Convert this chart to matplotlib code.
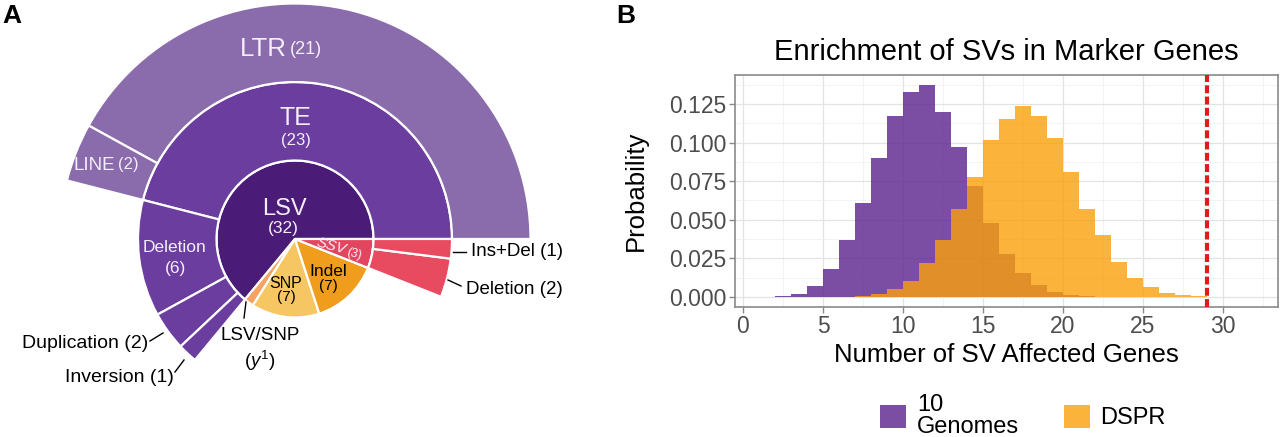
import numpy as np
import matplotlib.pyplot as plt
from matplotlib.patches import Wedge, Patch

plt.rcParams['font.family'] = ['Liberation Sans', 'DejaVu Sans']
plt.rcParams['mathtext.fontset'] = 'custom'
plt.rcParams['mathtext.it'] = 'Liberation Sans:italic'
plt.rcParams['mathtext.rm'] = 'Liberation Sans'

# === Panel A data (sunburst counts) ===
inner_labels = ["LSV", "LSV/SNP", "SNP", "Indel", "SSV"]
inner_counts = [32, 1, 7, 7, 3]
lsv_labels = ["TE", "Deletion", "Duplication", "Inversion"]
lsv_counts = [23, 6, 2, 1]
ssv_labels = ["Deletion", "Ins+Del"]
ssv_counts = [2, 1]
te_labels = ["LTR", "LINE"]
te_counts = [21, 2]

# === Panel B data (histogram probabilities, bins of width 1) ===
genomes_first_bin = 1
genomes_prob = [0.0003, 0.0005, 0.002, 0.007, 0.018, 0.037, 0.061, 0.090, 0.117,
                0.133, 0.137, 0.120, 0.097, 0.072, 0.048, 0.028, 0.0156, 0.0076,
                0.003, 0.001, 0.0004]
dspr_first_bin = 5
dspr_prob = [0.0001, 0.0003, 0.0006, 0.002, 0.005, 0.0106, 0.022, 0.037, 0.057,
             0.078, 0.102, 0.115, 0.124, 0.1174, 0.103, 0.081, 0.057, 0.040,
             0.0227, 0.0125, 0.0065, 0.0026, 0.001, 0.0004, 0.0002, 0.0002, 0.0001]
observed = 29
legend_labels = ["10\nGenomes", "DSPR"]

fig = plt.figure(figsize=(12.8, 4.37), dpi=100)

# === Panel A: sunburst in pixel-like coords (y down) ===
axA = fig.add_axes([0, 0, 560 / 1280, 1])
axA.set_xlim(0, 560)
axA.set_ylim(437, 0)
axA.axis('off')

cx, cy = 295, 239
unit = 78.5
total = sum(inner_counts)


def ring(counts, start, r_in, r_out, colors):
    a = start
    spans = []
    for c, col in zip(counts, colors):
        span = 360 * c / total
        w = None if r_in == 0 else r_out - r_in
        axA.add_patch(Wedge((cx, cy), r_out, -(a + span), -a, width=w,
                            facecolor=col, edgecolor='white', lw=1.6))
        spans.append((a, a + span))
        a += span
    return spans


inner = ring(inner_counts, 0, 0, unit,
             ['#4a1c78', '#f5a262', '#f6c663', '#f09c1c', '#e2455e'])
ring(lsv_counts, inner[0][0], unit, 2 * unit,
     ['#6a3d9e', '#6a3d9e', '#6a3d9e', '#6a3d9e'])
ring(ssv_counts, inner[4][0], unit, 2 * unit, ['#e84a5f', '#e84a5f'])
ring(te_counts, 0, 2 * unit, 3 * unit, ['#8a6bab', '#8a6bab'])

white = '#f4eefa'
axA.text(287, 49, "LTR", fontsize=18.5, color=white, ha='right', va='center')
axA.text(290, 50, "(21)", fontsize=13, color=white, ha='left', va='center')
axA.text(295, 118, "TE", fontsize=18, color=white, ha='center', va='center')
axA.text(296, 141, "(23)", fontsize=12, color=white, ha='center', va='center')
axA.text(284, 209, "LSV", fontsize=17, color=white, ha='center', va='center')
axA.text(283, 228, "(32)", fontsize=12.5, color=white, ha='center', va='center')
axA.text(115, 166, "LINE", fontsize=13.5, color=white, ha='right', va='center')
axA.text(118, 164, "(2)", fontsize=12, color=white, ha='left', va='center')
axA.text(174, 248, "Deletion", fontsize=12.5, color=white, ha='center', va='center')
axA.text(175, 268, "(6)", fontsize=12.5, color=white, ha='center', va='center')
axA.text(286, 283, "SNP", fontsize=11.5, color='black', ha='center', va='center')
axA.text(286, 297, "(7)", fontsize=11, color='black', ha='center', va='center')
axA.text(328, 271, "Indel", fontsize=12.5, color='black', ha='center', va='center')
axA.text(328, 286, "(7)", fontsize=11, color='black', ha='center', va='center')
axA.text(346, 250, "SSV", fontsize=11, color=white, ha='right', va='center',
         style='italic', rotation=-15, rotation_mode='anchor')
axA.text(347, 252, "(3)", fontsize=9, color=white, ha='left', va='center',
         rotation=-15, rotation_mode='anchor')

# outside labels with leader lines
axA.plot([453, 466], [251.5, 251.5], color='black', lw=1)
axA.text(471, 252, "Ins+Del (1)", fontsize=13.5, ha='left', va='center')
axA.plot([448, 461], [280, 286], color='black', lw=1)
axA.text(466, 289, "Deletion (2)", fontsize=13.5, ha='left', va='center')
axA.plot([150, 163], [341, 333], color='black', lw=1)
axA.text(148, 344, "Duplication (2)", fontsize=14, ha='right', va='center')
axA.plot([175, 184], [372, 360], color='black', lw=1)
axA.text(174, 377, "Inversion (1)", fontsize=14, ha='right', va='center')
axA.plot([244, 246], [318, 302], color='black', lw=1)
axA.text(260, 335, "LSV/SNP", fontsize=13.5, ha='center', va='center')
axA.text(260, 361, r"($y^1$)", fontsize=13.5, ha='center', va='center')

fig.text(12 / 1280, 1 - 16 / 437, "A", fontsize=19, fontweight='bold',
         ha='center', va='center')

# === Panel B: histogram ===
axB = fig.add_axes([735 / 1280, 1 - 307 / 437, 543 / 1280, 232 / 437])
g_edges = np.arange(genomes_first_bin, genomes_first_bin + len(genomes_prob) + 1)
d_edges = np.arange(dspr_first_bin, dspr_first_bin + len(dspr_prob) + 1)
axB.stairs(genomes_prob, g_edges, fill=True, color='#5a228c', alpha=0.8, lw=0, zorder=2)
axB.stairs(dspr_prob, d_edges, fill=True, color='#fba00a', alpha=0.8, lw=0, zorder=3)
axB.axvline(observed, color='#e31a1c', lw=3, ls=(0, (1.9, 0.8)), zorder=4)

axB.set_xlim(-0.5, 33.44)
axB.set_ylim(-0.0065, 0.1438)
axB.set_xticks(np.arange(0, 31, 5))
axB.set_yticks(np.arange(0, 0.126, 0.025))
axB.set_xticks(np.arange(2.5, 33, 5), minor=True)
axB.set_yticks(np.arange(0.0125, 0.14, 0.025), minor=True)
axB.yaxis.set_major_formatter(plt.FormatStrFormatter('%.3f'))
axB.grid(True, which='major', color='#e3e3e3', lw=0.9, zorder=0)
axB.grid(True, which='minor', color='#eeeeee', lw=0.5, zorder=0)
axB.set_axisbelow(True)
for s in axB.spines.values():
    s.set_color('#8a8a8a')
    s.set_linewidth(1.2)
axB.tick_params(which='major', length=4, width=1, color='#8a8a8a',
                labelsize=16.5, labelcolor='#4d4d4d', pad=2)
axB.tick_params(which='minor', length=0)

axB.set_title("Enrichment of SVs in Marker Genes", fontsize=21, pad=11)
axB.set_ylabel("Probability", fontsize=18.5)
axB.yaxis.set_label_coords(-0.16, 0.5)
axB.set_xlabel("Number of SV Affected Genes", fontsize=18.5)
axB.xaxis.set_label_coords(0.5, -0.155)

fig.text(626 / 1280, 1 - 16 / 437, "B", fontsize=19, fontweight='bold',
         ha='center', va='center')

handles = [Patch(facecolor='#5a228c', alpha=0.8, lw=0),
           Patch(facecolor='#fba00a', alpha=0.8, lw=0)]
leg = fig.legend(handles, legend_labels, loc='center',
                 bbox_to_anchor=(1023 / 1280, 21 / 437),
                 ncol=2, frameon=False, fontsize=17, handlelength=1.1,
                 handleheight=1.1, handletextpad=0.45, columnspacing=1.9,
                 borderpad=0.1)
for t in leg.get_texts():
    t.set_linespacing(0.95)

fig.savefig("out.png", dpi=100)
